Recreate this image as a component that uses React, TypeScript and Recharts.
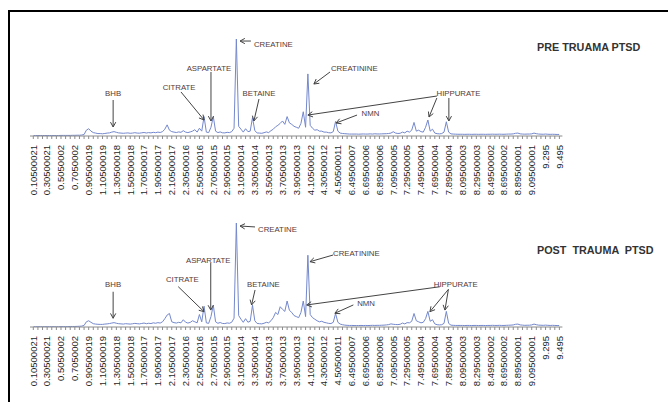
import React from 'react';
import { LineChart, Line, XAxis, YAxis, ReferenceDot, ReferenceLine } from 'recharts';

// Category tick labels (ppm), one label every 6 data points
const tickLabels = [
  "0.10500021", "0.30500021", "0.5050002", "0.7050002", "0.90500019", "1.10500019",
  "1.30500018", "1.50500018", "1.70500017", "1.90500017", "2.10500017", "2.30500016",
  "2.50500016", "2.70500015", "2.90500015", "3.10500014", "3.30500014", "3.50500013",
  "3.70500013", "3.90500013", "4.10500012", "4.30500012", "4.50500011", "6.49500007",
  "6.69500006", "6.89500006", "7.09500005", "7.29500005", "7.49500004", "7.69500004",
  "7.89500004", "8.09500003", "8.29500003", "8.49500002", "8.69500002", "8.89500001",
  "9.09500001", "9.295", "9.495",
];

// Spectrum intensities (relative, creatine = 100)
const preTrauma = [
  0.5, 0.5, 0.5, 0.5, 0.5, 0.5, 0.5, 0.5, 0.5, 0.5,
  0.5, 0.5, 0.6, 0.6, 0.6, 0.6, 0.6, 0.7, 0.7, 0.8,
  0.8, 1, 1.5, 6, 7.5, 5, 3.5, 3, 2.5, 2.5,
  2.3, 2.6, 3, 3.2, 4, 4.5, 3.8, 3.2, 3, 2.8,
  3, 3.2, 2.8, 3, 3.4, 3, 2.9, 3.3, 3.6, 3.1,
  3.5, 3.2, 3.8, 3.4, 4, 3.6, 4.5, 7, 11.5, 6,
  4.5, 4, 3.6, 4.2, 3.8, 5.5, 4, 3.5, 4.2, 5,
  6.5, 4, 8, 5, 20, 4, 3.5, 9, 20, 5,
  3.5, 4.2, 3.3, 3.2, 3.8, 3.5, 4.5, 8, 100, 10,
  7, 4, 7.5, 4.5, 5, 19, 5.5, 3.2, 3, 2.8,
  3.4, 4.2, 3.5, 5.5, 7, 9.5, 11, 13, 15.5, 12,
  20, 13.5, 12, 10, 9, 8, 13, 25, 9, 64,
  11, 8, 6, 6.5, 5, 5, 4, 4, 3.4, 3.2,
  4.5, 15, 5, 3, 2.6, 2.4, 2.2, 2, 2, 2,
  2, 1.9, 2, 2.1, 2, 2, 2.2, 2, 2.3, 2.1,
  2.1, 2.2, 2.3, 2.4, 2.6, 3, 4.4, 3, 2.6, 2.8,
  4, 3.2, 5, 4, 6, 14, 5, 6, 4.5, 4,
  9, 16.5, 5, 7, 3, 2.4, 2.2, 2.5, 4, 14.7,
  4, 2.2, 2, 1.9, 1.8, 1.8, 1.8, 1.7, 1.8, 1.8,
  1.7, 1.8, 1.8, 1.7, 1.8, 1.8, 1.7, 1.8, 1.8, 1.9,
  1.8, 1.8, 1.9, 1.8, 1.8, 1.9, 2, 2, 2.2, 2.8,
  3, 2.2, 2, 1.9, 2, 2, 2.2, 3, 2.4, 2,
  1.9, 1.8, 2, 1.8, 1.7, 1.8, 1.7, 1.6, 1.6,
];

const postTrauma = [
  0.3, 0.3, 0.3, 0.3, 0.3, 0.3, 0.3, 0.3, 0.3, 0.3,
  0.3, 0.3, 0.4, 0.4, 0.4, 0.4, 0.5, 0.5, 0.5, 0.6,
  0.7, 0.9, 1.5, 5, 6, 4.5, 3.2, 2.8, 2.6, 2.5,
  2.5, 2.8, 3, 3.3, 3.8, 4.2, 3.6, 3.2, 3, 2.8,
  3.2, 3, 2.8, 3.1, 3.5, 3.2, 3, 3.4, 3.8, 3.2,
  3.6, 3.3, 4, 3.6, 4.2, 3.8, 5, 8, 11.5, 13,
  5, 4.2, 3.8, 4.5, 4, 7, 4.6, 3.8, 4.4, 6,
  5, 4, 12, 5, 20, 4, 3.5, 10, 21, 5,
  3.6, 4.3, 3.4, 3.3, 3.9, 3.6, 4.6, 8.5, 100, 11,
  7.5, 4.5, 8, 4.6, 5.5, 21, 6, 3.4, 3.2, 3,
  3.6, 4.5, 4, 6, 9, 14, 12, 19.5, 17, 15,
  25, 16, 14, 11, 10, 9, 14, 25, 10, 69,
  12, 9, 7.5, 6, 5, 5.5, 4.5, 4, 3.5, 3.3,
  4.5, 13, 4.5, 2.8, 2.2, 1.8, 1.6, 1.5, 1.5, 1.4,
  1.4, 1.4, 1.5, 1.4, 1.5, 1.4, 1.5, 1.6, 1.5, 1.6,
  1.6, 1.7, 1.8, 2, 2.3, 3, 2.6, 2.4, 2.3, 2.6,
  3.8, 3, 4.2, 4, 5.5, 13, 6, 5, 4, 4.5,
  8, 15, 5.5, 7, 3, 2.2, 2, 2.2, 3.5, 15,
  3.5, 1.8, 1.6, 1.5, 1.5, 1.5, 1.5, 1.4, 1.5, 1.5,
  1.4, 1.5, 1.5, 1.4, 1.5, 1.5, 1.4, 1.5, 1.5, 1.6,
  1.5, 1.5, 1.6, 1.5, 1.5, 1.6, 1.7, 1.8, 2, 2.6,
  2.8, 2, 1.8, 1.6, 1.7, 1.7, 2, 2.8, 2.2, 1.8,
  1.7, 1.6, 1.8, 1.6, 1.5, 1.6, 1.5, 1.4, 1.4,
];

// Annotation labels: [text, x (point index), y (intensity), anchor]
const preLabels: [string, number, number, string][] = [
  ["BHB", 34.6, 43.3, "middle"],
  ["CITRATE", 63.2, 50.5, "middle"],
  ["ASPARTATE", 76.1, 70.1, "middle"],
  ["CREATINE", 95.6, 94.8, "start"],
  ["BETAINE", 97.8, 43.3, "middle"],
  ["CREATININE", 129, 70.1, "start"],
  ["HIPPURATE", 184.3, 43.3, "middle"],
  ["NMN", 146.1, 23.7, "middle"],
];
const preArrows: [number, number, number, number][] = [
  [34.6, 37.1, 34.6, 9.3],
  [64, 45.4, 74, 16.5],
  [77, 66, 77, 15.5],
  [94.3, 97.9, 89.6, 97.9],
  [97.8, 38.1, 95.6, 15.5],
  [128.6, 66, 121.6, 53.6],
  [174.9, 41.2, 119, 21.6],
  [174.9, 39.2, 171.5, 19.6],
  [180.1, 39.2, 180.1, 15.5],
  [140.3, 21.6, 131.2, 13.4],
];
const postLabels: [string, number, number, string][] = [
  ["BHB", 34.6, 41, "middle"],
  ["CITRATE", 64.6, 45.9, "middle"],
  ["ASPARTATE", 75.8, 63.8, "middle"],
  ["CREATINE", 97.4, 94.2, "start"],
  ["BETAINE", 99.7, 40.4, "middle"],
  ["CREATININE", 129.9, 70.9, "start"],
  ["HIPPURATE", 183.1, 41, "middle"],
  ["NMN", 144.2, 22.8, "middle"],
];
const postArrows: [number, number, number, number][] = [
  [34.6, 33.9, 34.6, 8.4],
  [62.8, 38.8, 74, 14.7],
  [76.9, 61.5, 76.9, 16.3],
  [96.1, 96.2, 89.6, 97.1],
  [96.1, 35.6, 94.6, 21.2],
  [129.9, 69.2, 119.9, 62.8],
  [176.2, 38.7, 118.5, 21.2],
  [179.9, 36.2, 171.9, 14.7],
  [179.9, 36.2, 178.4, 16.3],
  [138.7, 21.2, 130.7, 13.2],
];

const LAST = (tickLabels.length - 1) * 6;
const tickIdx = Array.from({ length: LAST / 2 + 1 }, (_, k) => k * 2);

const AxisTick = (props: any) => {
  const { x, y, payload } = props;
  const idx = payload.value;
  if (idx % 6 !== 0) return <g />;
  return (
    <g transform={`translate(${x},${y + 6})`}>
      <text
        transform="rotate(-90)"
        textAnchor="end"
        dy="0.35em"
        fontSize={9.5}
        fontFamily="'Liberation Sans', Arial, sans-serif"
        fill="#1f1f1f"
      >
        {tickLabels[idx / 6]}
      </text>
    </g>
  );
};

const arrowShape = (p: any) => {
  const { x1, y1, x2, y2 } = p;
  const ang = Math.atan2(y2 - y1, x2 - x1);
  const L = 5.5;
  const a = 0.5;
  const hx1 = x2 - L * Math.cos(ang - a);
  const hy1 = y2 - L * Math.sin(ang - a);
  const hx2 = x2 - L * Math.cos(ang + a);
  const hy2 = y2 - L * Math.sin(ang + a);
  return (
    <g>
      <line x1={x1} y1={y1} x2={x2} y2={y2} stroke="#444" strokeWidth={1} />
      <polyline points={`${hx1},${hy1} ${x2},${y2} ${hx2},${hy2}`} fill="none" stroke="#444" strokeWidth={1} />
    </g>
  );
};

const makeTextShape = (text: string, anchor: string) => (p: any) => (
  <text
    x={p.cx}
    y={p.cy}
    textAnchor={anchor}
    dominantBaseline="central"
    fontSize={7.8}
    fontFamily="'Liberation Sans', Arial, sans-serif"
    fill="#533a3a"
  >
    {text}
  </text>
);

function Panel({ values, labels, arrows, top, height, marginTop, marginBottom }: any) {
  const rows = values.map((v: number, i: number) => ({ i, v }));
  return (
    <div style={{ position: 'absolute', left: 0, top }}>
      <LineChart
        width={668}
        height={height}
        data={rows}
        margin={{ top: marginTop, right: 105.6, bottom: marginBottom, left: 30 }}
      >
        <XAxis
          dataKey="i"
          type="number"
          domain={[0, LAST]}
          ticks={tickIdx}
          interval={0}
          padding={{ left: 3.3, right: 3 }}
          height={60}
          tickSize={3}
          tickMargin={0}
          stroke="#8c8c8c"
          tick={<AxisTick />}
          allowDataOverflow
        />
        <YAxis hide width={0} domain={[0, 100]} allowDataOverflow />
        <Line
          dataKey="v"
          type="linear"
          stroke="#7488cc"
          strokeWidth={1}
          dot={false}
          isAnimationActive={false}
        />
        {arrows.map((a: number[], k: number) => (
          <ReferenceLine
            key={'a' + k}
            segment={[{ x: a[0], y: a[1] }, { x: a[2], y: a[3] }]}
            ifOverflow="visible"
            shape={arrowShape}
          />
        ))}
        {labels.map((l: any[], k: number) => (
          <ReferenceDot
            key={'l' + k}
            x={l[1]}
            y={l[2]}
            r={1}
            ifOverflow="visible"
            shape={makeTextShape(l[0], l[3])}
          />
        ))}
      </LineChart>
    </div>
  );
}

export default function App() {
  return (
    <div style={{ position: 'absolute', left: 0, top: 0, width: 668, height: 402, overflow: 'hidden', background: '#fff' }}>
      <div
        style={{
          position: 'absolute', left: 8, top: 10, width: 660, height: 392,
          borderTop: '2px solid #000', borderLeft: '2px solid #000', boxSizing: 'border-box',
        }}
      />
      <Panel values={preTrauma} labels={preLabels} arrows={preArrows} top={0} height={200} marginTop={39} marginBottom={4} />
      <Panel values={postTrauma} labels={postLabels} arrows={postArrows} top={190} height={212} marginTop={33} marginBottom={15} />
      <div style={{ position: 'absolute', left: 537, top: 41, fontFamily: "'Liberation Sans', Arial, sans-serif", fontWeight: 'bold', fontSize: 10.8, lineHeight: '12px', color: '#333', whiteSpace: 'nowrap' }}>
        PRE TRUAMA PTSD
      </div>
      <div style={{ position: 'absolute', left: 537, top: 244, fontFamily: "'Liberation Sans', Arial, sans-serif", fontWeight: 'bold', fontSize: 10.8, lineHeight: '12px', color: '#333', whiteSpace: 'nowrap', wordSpacing: 3 }}>
        POST TRAUMA PTSD
      </div>
    </div>
  );
}
